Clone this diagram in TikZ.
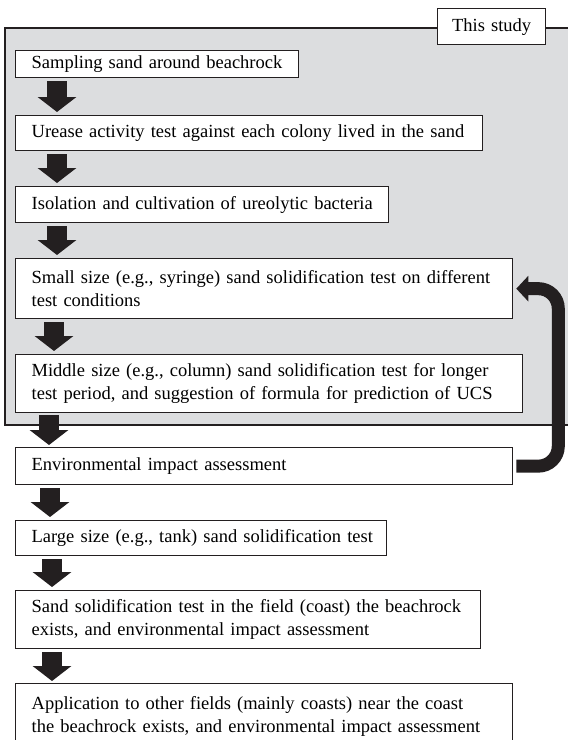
\documentclass[tikz,border=0pt]{standalone}
\usepackage{fontspec}
\setmainfont{Liberation Serif}
\usetikzlibrary{arrows.meta,calc}
\definecolor{studygray}{RGB}{220,221,223}
\definecolor{ink}{RGB}{35,31,32}
\begin{document}
\begin{tikzpicture}[x=1pt,y=-1pt,
  box/.style={draw=ink, line width=1.3pt, fill=white, anchor=north west, align=left,
    inner xsep=16pt, inner ysep=0pt, font=\fontsize{18.5}{23}\selectfont},
  fat/.style={line width=20pt, draw=ink, -{Triangle[width=38pt,length=15pt]}},
  loopback/.style={line width=13pt, draw=ink, rounded corners=20pt, -{Triangle[width=25pt,length=12pt]}}
]
\clip (0,0) rectangle (568,740);
\fill[white] (0,0) rectangle (568,740);
\draw[line width=1.3pt, draw=ink, fill=studygray] (5,28) rectangle (600,425);
\node[box, align=center, inner xsep=13pt, text width=82pt, minimum height=36pt] (study) at (437,8) {This study};

\node[box, text width=251pt, minimum height=27pt] (b1) at (15,50) {\mbox{Sampling sand around beachrock}};
\node[box, text width=435pt, minimum height=35pt] (b2) at (15,115) {\mbox{Urease activity test against each colony lived in the sand}};
\node[box, text width=341pt, minimum height=36pt] (b3) at (15,186) {\mbox{Isolation and cultivation of ureolytic bacteria}};
\node[box, text width=465pt, minimum height=60pt] (b4) at (15,258) {\mbox{Small size (e.g., syringe) sand solidification test on different}\\\mbox{test conditions}};
\node[box, text width=475pt, minimum height=58pt] (b5) at (15,354) {\mbox{Middle size (e.g., column) sand solidification test for longer}\\\mbox{test period, and suggestion of formula for prediction of UCS}};
\node[box, text width=465pt, minimum height=37pt] (b6) at (15,447) {\mbox{Environmental impact assessment}};
\node[box, text width=339pt, minimum height=35pt] (b7) at (15,520) {\mbox{Large size (e.g., tank) sand solidification test}};
\node[box, text width=433pt, minimum height=58pt] (b8) at (15,590) {\mbox{Sand solidification test in the field (coast) the beachrock}\\\mbox{exists, and environmental impact assessment}};
\node[box, text width=465pt, minimum height=66pt] (b9) at (15,683) {\mbox{Application to other fields (mainly coasts) near the coast}\\\mbox{the beachrock exists, and environmental impact assessment}};

\draw[fat] ($(b1.south west)+(42,3)$) -- ($(b2.north west)+(42,-3)$);
\draw[fat] ($(b2.south west)+(42,3)$) -- ($(b3.north west)+(42,-3)$);
\draw[fat] ($(b3.south west)+(42,3)$) -- ($(b4.north west)+(42,-3)$);
\draw[fat] ($(b4.south west)+(39,3)$) -- ($(b5.north west)+(39,-3)$);
\draw[fat] ($(b5.south west)+(34,2)$) -- ($(b6.north west)+(34,-2)$);
\draw[fat] ($(b6.south west)+(35,3)$) -- ($(b7.north west)+(35,-3)$);
\draw[fat] ($(b7.south west)+(37,3)$) -- ($(b8.north west)+(37,-3)$);
\draw[fat] ($(b8.south west)+(37,3)$) -- ($(b9.north west)+(37,-2)$);

\draw[loopback] ($(b6.east)+(3,0)$) -- ($(b6.east)+(45,0)$) |- ($(b4.east)+(3,0)$);
\end{tikzpicture}
\end{document}
